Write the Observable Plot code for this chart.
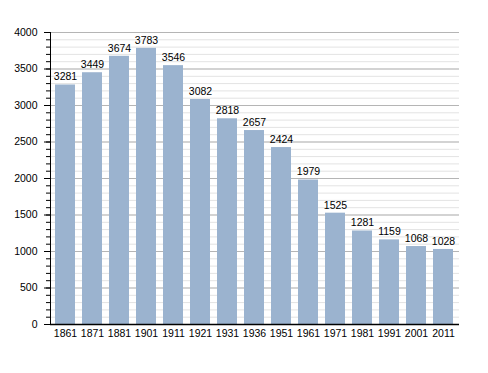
<!DOCTYPE html>
<html><head><meta charset="utf-8">
<script src="https://cdn.jsdelivr.net/npm/d3@7"></script>
<script src="https://cdn.jsdelivr.net/npm/@observablehq/plot@0.6"></script>
<style>body{margin:0;background:#fff}</style>
</head><body><div id="chart"></div>
<script>
const years = ["1861","1871","1881","1901","1911","1921","1931","1936","1951","1961","1971","1981","1991","2001","2011"];
const population = [3281,3449,3674,3783,3546,3082,2818,2657,2424,1979,1525,1281,1159,1068,1028];
const yTicks = [0,500,1000,1500,2000,2500,3000,3500,4000];
const minorTicks = d3.range(0, 4001, 100);

const data = years.map((y, i) => ({year: y, pop: population[i]}));

const chart = Plot.plot({
  width: 488,
  height: 373,
  marginLeft: 50,
  marginRight: 29,
  marginTop: 32,
  marginBottom: 49,
  style: {fontFamily: "'Liberation Sans', Arial, sans-serif", fontSize: "10px", color: "#000", background: "#fff"},
  x: {domain: years, paddingInner: 0.25, paddingOuter: 0.04, label: null},
  y: {domain: [0, 4000], label: null},
  marks: [
    Plot.ruleY(minorTicks, {stroke: "#e3e3e3", strokeWidth: 1}),
    Plot.ruleY(yTicks, {stroke: "#b5b5b5", strokeWidth: 1}),
    Plot.barY(data, {x: "year", y: "pop", fill: "#9bb3cf"}),
    Plot.text(data, {x: "year", y: "pop", text: d => String(d.pop), dy: -8, fontSize: 10.5, fill: "#000"}),
    Plot.axisY(minorTicks, {tickSize: 4, tickFormat: () => "", stroke: "#000"}),
    Plot.axisY(yTicks, {tickSize: 6, tickPadding: 7, stroke: "#000", fontSize: 10.5, tickFormat: d => String(d)}),
    Plot.axisX({tickSize: 0, tickPadding: 5, fontSize: 10.5}),
    Plot.frame({anchor: "left", stroke: "#000"}),
    Plot.ruleY([0], {stroke: "#000", strokeWidth: 1.5})
  ]
});
document.getElementById("chart").appendChild(chart);
</script>
</body></html>
